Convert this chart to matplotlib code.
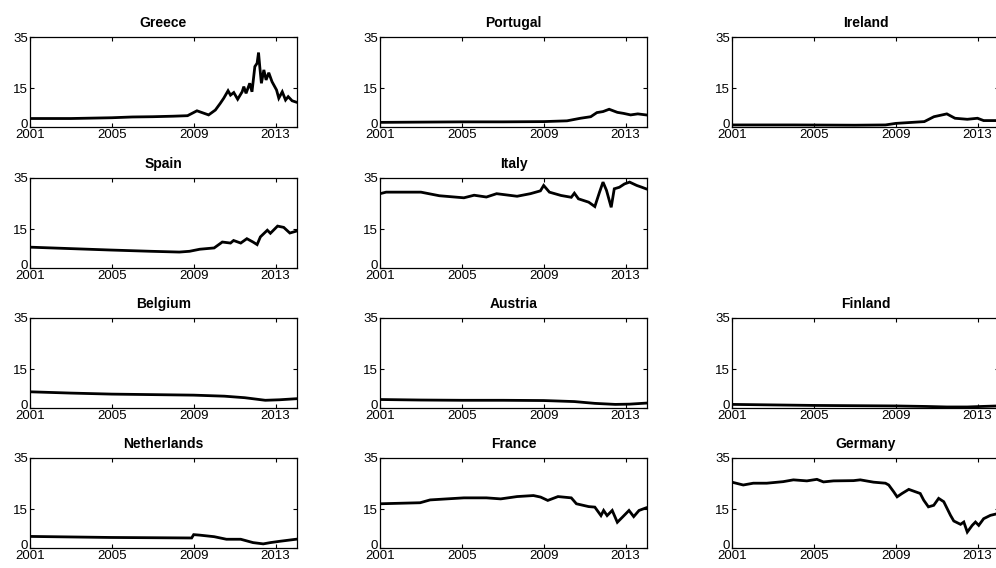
import matplotlib
matplotlib.use("Agg")
import matplotlib.pyplot as plt
from matplotlib.transforms import ScaledTranslation

plt.rcParams['font.family'] = ['Liberation Sans', 'DejaVu Sans']

# ---- data (years, values) ----
greece_t = [2001.0, 2003.0, 2005.0, 2006.0, 2007.0, 2008.0, 2008.7, 2009.16, 2009.73, 2010.06, 2010.3,
            2010.47, 2010.68, 2010.8, 2010.96, 2011.15, 2011.37, 2011.45, 2011.56, 2011.74, 2011.85,
            2011.99, 2012.1, 2012.17, 2012.23, 2012.31, 2012.43, 2012.54, 2012.67, 2012.83, 2013.05,
            2013.16, 2013.33, 2013.49, 2013.62, 2013.81, 2014.0]
greece_v = [3.3, 3.3, 3.6, 3.9, 4.0, 4.2, 4.4, 6.3, 4.7, 6.6, 9.2, 11.2, 14.1, 12.4, 13.4, 10.8, 13.7,
            15.7, 13.1, 17.0, 13.7, 23.5, 24.8, 28.9, 23.5, 17.0, 22.2, 18.3, 21.1, 17.6, 14.4, 11.2,
            13.7, 10.5, 11.8, 10.2, 9.7]

portugal_t = [2001, 2003, 2005, 2007, 2009.0, 2010.14, 2010.8, 2011.3, 2011.6, 2011.9, 2012.2, 2012.6,
              2012.9, 2013.25, 2013.6, 2014.0]
portugal_v = [1.8, 1.9, 2.0, 2.0, 2.1, 2.4, 3.4, 4.0, 5.6, 6.0, 6.9, 5.7, 5.3, 4.7, 5.1, 4.7]

ireland_t = [2001, 2004, 2007, 2008.5, 2009.0, 2010.4, 2010.87, 2011.5, 2011.9, 2012.5, 2013.0, 2013.3, 2014.0]
ireland_v = [0.8, 0.8, 0.7, 0.8, 1.4, 2.1, 4.0, 5.1, 3.4, 3.0, 3.4, 2.5, 2.5]

spain_t = [2001, 2004.9, 2006.9, 2008.3, 2008.8, 2009.3, 2010.0, 2010.4, 2010.8, 2010.95, 2011.3, 2011.6,
           2011.9, 2012.1, 2012.26, 2012.6, 2012.75, 2013.1, 2013.4, 2013.7, 2014.0]
spain_v = [8.1, 7.0, 6.5, 6.2, 6.5, 7.3, 7.8, 10.1, 9.7, 10.7, 9.7, 11.4, 10.1, 9.1, 12.1, 14.7, 13.5,
           16.3, 15.8, 13.6, 14.3]

italy_t = [2001, 2001.3, 2003.0, 2003.9, 2005.1, 2005.6, 2006.2, 2006.7, 2007.7, 2008.35, 2008.84, 2009.0,
           2009.28, 2009.85, 2010.35, 2010.5, 2010.7, 2011.2, 2011.5, 2011.73, 2011.9, 2012.07, 2012.3,
           2012.45, 2012.7, 2012.95, 2013.2, 2013.55, 2013.8, 2014.0]
italy_v = [28.9, 29.5, 29.5, 28.1, 27.3, 28.3, 27.6, 28.9, 27.9, 28.9, 30.0, 32.1, 29.5, 28.2, 27.5, 29.1,
           26.9, 25.6, 23.9, 29.5, 33.4, 30.2, 23.6, 30.8, 31.4, 32.7, 33.4, 32.1, 31.4, 30.8]

belgium_t = [2001, 2003, 2005, 2007, 2009, 2010.5, 2011.5, 2012.5, 2013.2, 2014.0]
belgium_v = [6.3, 5.8, 5.4, 5.2, 5.0, 4.6, 4.0, 3.0, 3.2, 3.6]

austria_t = [2001, 2003, 2005, 2007, 2009, 2010.5, 2011.5, 2012.5, 2013.2, 2014.0]
austria_v = [3.3, 3.1, 3.0, 3.0, 2.9, 2.5, 1.8, 1.4, 1.5, 1.9]

finland_t = [2001, 2003, 2005, 2007, 2009, 2010.5, 2011.5, 2012.5, 2013.2, 2014.0]
finland_v = [1.4, 1.2, 1.0, 0.9, 0.8, 0.6, 0.4, 0.4, 0.6, 0.8]

netherlands_t = [2001, 2004.9, 2008.9, 2009.0, 2009.3, 2010.0, 2010.6, 2011.3, 2011.9, 2012.4, 2012.75,
                 2013.2, 2014.0]
netherlands_v = [4.5, 4.1, 3.9, 5.2, 5.0, 4.4, 3.4, 3.4, 2.1, 1.6, 2.1, 2.6, 3.4]

france_t = [2001, 2002.96, 2003.45, 2004.27, 2005.1, 2006.2, 2006.9, 2007.7, 2008.5, 2008.85, 2009.2,
            2009.7, 2010.35, 2010.6, 2011.2, 2011.5, 2011.8, 2011.93, 2012.1, 2012.35, 2012.6, 2012.85,
            2013.17, 2013.4, 2013.66, 2014.0]
france_v = [17.2, 17.6, 18.7, 19.1, 19.5, 19.5, 19.1, 20.0, 20.4, 19.8, 18.5, 20.0, 19.5, 17.2, 16.1,
            15.9, 12.6, 14.6, 12.6, 14.6, 10.0, 12.0, 14.6, 12.2, 14.6, 15.6]

germany_t = [2001, 2001.55, 2002.04, 2002.7, 2003.5, 2004.0, 2004.66, 2005.15, 2005.47, 2005.96, 2006.94,
             2007.27, 2007.92, 2008.5, 2008.66, 2008.9, 2009.07, 2009.31, 2009.64, 2010.2, 2010.37,
             2010.6, 2010.86, 2011.1, 2011.35, 2011.68, 2011.84, 2012.17, 2012.33, 2012.5, 2012.74,
             2012.9, 2013.06, 2013.3, 2013.63, 2014.0]
germany_v = [25.6, 24.5, 25.2, 25.2, 25.8, 26.5, 26.1, 26.7, 25.7, 26.1, 26.2, 26.5, 25.6, 25.2, 24.5,
             21.9, 19.9, 21.2, 22.8, 21.2, 18.6, 16.0, 16.6, 19.3, 18.0, 12.7, 10.5, 9.2, 10.1, 6.2, 8.8,
             10.1, 8.8, 11.4, 12.7, 13.4]

x_ticks = [2001, 2005, 2009, 2013]
y_ticks = [0, 15, 35]

panels = [
    ("Greece", greece_t, greece_v, 0, 0),
    ("Portugal", portugal_t, portugal_v, 0, 1),
    ("Ireland", ireland_t, ireland_v, 0, 2),
    ("Spain", spain_t, spain_v, 1, 0),
    ("Italy", italy_t, italy_v, 1, 1),
    ("Belgium", belgium_t, belgium_v, 2, 0),
    ("Austria", austria_t, austria_v, 2, 1),
    ("Finland", finland_t, finland_v, 2, 2),
    ("Netherlands", netherlands_t, netherlands_v, 3, 0),
    ("France", france_t, france_v, 3, 1),
    ("Germany", germany_t, germany_v, 3, 2),
]

W, H = 996, 568
fig = plt.figure(figsize=(W / 100, H / 100), dpi=100)

col_left = [30, 380, 732]
row_top = [37, 178, 318, 458]
ax_w, ax_h = 267, 90

for name, t, v, r, c in panels:
    ax = fig.add_axes([col_left[c] / W, (H - row_top[r] - ax_h) / H, ax_w / W, ax_h / H])
    ax.plot(t, v, color='black', lw=2.0, solid_joinstyle='miter')
    ax.set_xlim(2001, 2014.05)
    ax.set_ylim(0, 35)
    ax.set_xticks(x_ticks)
    ax.set_yticks(y_ticks)
    ax.tick_params(direction='in', length=3, width=0.8, top=True, right=True,
                   labelsize=9.5, pad=1.5, colors='black')
    for s in ax.spines.values():
        s.set_linewidth(0.9)
    ax.set_title(name, fontsize=10, fontweight='bold', pad=7)
    # nudge the "0" label slightly up so it does not collide with the year label
    zero_lbl = ax.yaxis.get_major_ticks()[0].label1
    zero_lbl.set_transform(zero_lbl.get_transform() + ScaledTranslation(0, 2.5 / 72, fig.dpi_scale_trans))

fig.savefig("out.png", dpi=100)
